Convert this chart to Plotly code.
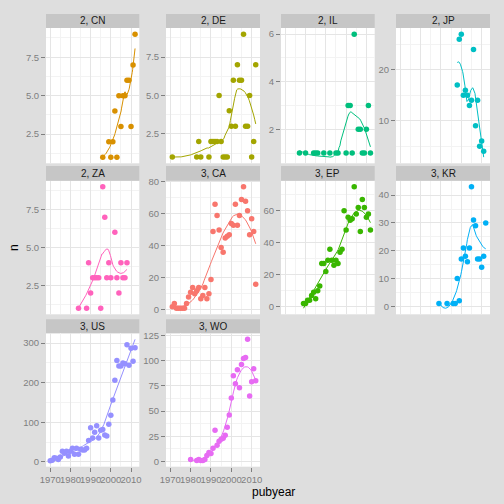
import numpy as np
import plotly.graph_objects as go

# facet labels and colours (ggplot hue palette, alphabetical by country)
panels = ["2, CN", "2, DE", "2, IL", "2, JP", "2, ZA", "3, CA", "3, EP", "3, KR", "3, US", "3, WO"]
colors = ["#D89000", "#A3A500", "#00BF7D", "#00BFC4", "#FF62BC",
          "#F8766D", "#39B600", "#00B0F6", "#9590FF", "#E76BF3"]

cn_year = [1996, 1999, 2000, 2001, 2002, 2003, 2004, 2005, 2006, 2007, 2008, 2009, 2010, 2011, 2012]
cn_n = [1, 2, 1, 2, 4, 1, 5, 3, 5, 5, 6, 6, 3, 7, 9]

de_year = [1971, 1983, 1984, 1985, 1989, 1990, 1991, 1992, 1993, 1994, 1995, 1996, 1997, 1998,
           1999, 2000, 2001, 2002, 2003, 2004, 2005, 2006, 2007, 2008, 2009, 2010, 2011, 2012]
de_n = [1, 1, 2, 1, 1, 2, 2, 2, 2, 5, 2, 1, 1, 1, 4, 3, 6, 3, 7, 6, 6, 9, 3, 3, 5, 1, 2, 7]

il_year = [1977, 1980, 1984, 1985, 1986, 1989, 1992, 1995, 1996, 2000, 2001, 2002, 2003, 2004,
           2006, 2007, 2008, 2009, 2010, 2011, 2012]
il_n = [1, 1, 1, 1, 1, 1, 1, 1, 1, 1, 3, 3, 1, 6, 2, 2, 1, 1, 2, 3, 1]

jp_year = [1998, 1999, 2000, 2001, 2002, 2003, 2004, 2005, 2006, 2007, 2008, 2009, 2010, 2011]
jp_n = [17, 26, 27, 15, 16, 15, 13, 14, 24, 9, 14, 5, 6, 4]

za_year = [1984, 1988, 1989, 1990, 1991, 1992, 1993, 1994, 1995, 1996, 1997, 1998, 1999, 2000,
           2002, 2003, 2004, 2005, 2006, 2007, 2008]
za_n = [1, 1, 4, 2, 3, 3, 3, 3, 1, 9, 7, 3, 4, 3, 6, 3, 2, 4, 3, 3, 4]

ca_year = list(range(1971, 2013))
ca_n = [2, 4, 1, 1, 1, 1, 1, 4, 8, 11, 14, 10, 12, 14, 7, 9, 14, 7, 10, 19, 49,
        66, 59, 50, 39, 36, 45, 46, 47, 54, 53, 66, 53, 59, 69, 77, 68, 62, 47, 57, 49, 16]

ep_year = list(range(1979, 2013))
ep_n = [2, 2, 4, 4, 7, 9, 5, 10, 13, 27, 27, 22, 29, 36, 29, 26, 29, 27, 34, 36,
        60, 48, 56, 54, 55, 75, 58, 62, 47, 67, 62, 56, 58, 48]

kr_year = [1989, 1993, 1996, 1997, 1998, 1999, 2000, 2001, 2002, 2003, 2004, 2005, 2006, 2007,
           2008, 2009, 2010, 2011, 2012]
kr_n = [1, 1, 1, 1, 10, 2, 17, 21, 18, 16, 21, 43, 31, 29, 17, 17, 14, 18, 30]

us_year = list(range(1970, 2013))
us_n = [3, 4, 10, 9, 6, 12, 27, 22, 27, 15, 27, 34, 19, 34, 19, 32, 30, 30, 34, 54, 86,
        60, 75, 91, 60, 80, 82, 68, 65, 95, 118, 156, 206, 256, 242, 242, 250, 248, 296,
        244, 287, 254, 288]

wo_year = [1980] + list(range(1983, 2013))
wo_n = [2, 1, 2, 1, 1, 2, 6, 9, 8, 13, 31, 16, 20, 22, 23, 26, 34, 46, 63, 85, 77, 91,
        73, 96, 102, 103, 121, 65, 79, 92, 80]

years = [cn_year, de_year, il_year, jp_year, za_year, ca_year, ep_year, kr_year, us_year, wo_year]
counts = [cn_n, de_n, il_n, jp_n, za_n, ca_n, ep_n, kr_n, us_n, wo_n]
y_step = [2.5, 2.5, 2, 10, 2.5, 20, 20, 10, 100, 25]


def loess(x, y, span=0.75, n_out=80):
    # local quadratic fit with tricube weights, like R's loess defaults
    x = np.asarray(x, float)
    y = np.asarray(y, float)
    q = int(np.floor(len(x) * span))
    xs = np.linspace(x.min(), x.max(), n_out)
    fit = []
    for x0 in xs:
        d = np.abs(x - x0)
        h = np.sort(d)[q - 1] * 1.0001
        w = np.clip(1 - (d / h) ** 3, 0, None) ** 3
        X = np.column_stack([np.ones_like(x), x - x0, (x - x0) ** 2])
        A = X.T @ (X * w[:, None])
        b = X.T @ (w * y)
        fit.append(np.linalg.lstsq(A, b, rcond=None)[0][0])
    return xs, np.array(fit)


W = H = 504
cols = [(46, 139.3), (166, 260), (281, 374.7), (396, 490)]
rows = [(14, 28, 163.3), (166, 180.7, 314.3), (319.3, 333.3, 466.7)]


def fx(px):
    return px / W


def fy(px):
    return 1 - px / H


grey = "#7F7F7F"
font = "Liberation Sans, Arial, sans-serif"
fig = go.Figure()
shapes = []
annotations = []

for i, name in enumerate(panels):
    r, c = divmod(i, 4)
    x0, x1 = cols[c]
    st, pt, pb = rows[r]
    k = "" if i == 0 else str(i + 1)
    xs, ys = loess(years[i], counts[i])

    fig.add_trace(go.Scatter(x=years[i], y=counts[i], mode="markers",
                             marker=dict(color=colors[i], size=5.5),
                             xaxis="x" + k, yaxis="y" + k, showlegend=False))
    fig.add_trace(go.Scatter(x=xs, y=ys, mode="lines",
                             line=dict(color=colors[i], width=1),
                             xaxis="x" + k, yaxis="y" + k, showlegend=False))

    allv = np.concatenate([np.asarray(counts[i], float), ys])
    lo, hi = allv.min(), allv.max()
    pad = 0.05 * (hi - lo)
    bottom = i in (8, 9)
    step = y_step[i]

    fig.layout["xaxis" + k] = dict(
        domain=[fx(x0), fx(x1)], anchor="y" + k, range=[1967.9, 2014.1], automargin=False,
        tick0=1970, dtick=10, showgrid=True, gridcolor="#E5E5E5", gridwidth=1.1,
        minor=dict(dtick=5, tick0=1965, showgrid=True, gridcolor="#F3F3F3", gridwidth=0.6),
        zeroline=False, showline=False, tickangle=0,
        ticks="outside" if bottom else "", ticklen=4, tickcolor=grey,
        showticklabels=bottom, tickfont=dict(size=9.5, color=grey, family=font))
    fig.layout["yaxis" + k] = dict(
        domain=[fy(pb), fy(pt)], anchor="x" + k, range=[lo - pad, hi + pad], automargin=False,
        tick0=0, dtick=step, tickformat=".1f" if step == 2.5 else "d",
        showgrid=True, gridcolor="#E5E5E5", gridwidth=1.1,
        minor=dict(dtick=step / 2, tick0=0, showgrid=True, gridcolor="#F3F3F3", gridwidth=0.6),
        zeroline=False, showline=False, ticks="outside", ticklen=4, tickcolor=grey,
        tickfont=dict(size=9.5, color=grey, family=font))

    shapes.append(dict(type="rect", xref="paper", yref="paper",
                       x0=fx(x0), x1=fx(x1), y0=fy(pt), y1=fy(st),
                       fillcolor="#C6C6C6", line=dict(width=0), layer="below"))
    annotations.append(dict(text=name, xref="paper", yref="paper",
                            x=fx((x0 + x1) / 2), y=fy((st + pt) / 2),
                            xanchor="center", yanchor="middle", showarrow=False,
                            font=dict(size=10, color="#1A1A1A", family=font)))

annotations.append(dict(text="pubyear", xref="paper", yref="paper",
                        x=fx(273), y=fy(492), xanchor="center", yanchor="middle",
                        showarrow=False, font=dict(size=12, color="black", family=font)))
annotations.append(dict(text="n", xref="paper", yref="paper", textangle=-90,
                        x=fx(14), y=fy(248), xanchor="center", yanchor="middle",
                        showarrow=False, font=dict(size=12, color="black", family=font)))

fig.update_layout(width=W, height=H, margin=dict(l=0, r=0, t=0, b=0, autoexpand=False),
                  paper_bgcolor="#DEDEDE", plot_bgcolor="white",
                  shapes=shapes, annotations=annotations, showlegend=False,
                  font=dict(family=font))

# drop the page's default body margin so the 504px figure fills the window
fig.write_html("out.html", config={"displayModeBar": False},
               post_script="document.body.style.margin='0';")
